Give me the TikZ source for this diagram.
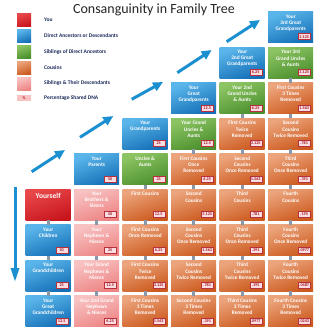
\documentclass[tikz,border=0pt]{standalone}
\usepackage{fontspec}
\setmainfont{Carlito}
\usetikzlibrary{arrows.meta}
\definecolor{redL}{HTML}{E8484A}\definecolor{redD}{HTML}{C8161E}
\definecolor{bluL}{HTML}{5AB6EA}\definecolor{bluD}{HTML}{1670B8}
\definecolor{grnL}{HTML}{8CC463}\definecolor{grnD}{HTML}{4B8F2C}
\definecolor{oraL}{HTML}{ECA47C}\definecolor{oraD}{HTML}{CC5A1E}
\definecolor{pnkL}{HTML}{F8C2C2}\definecolor{pnkD}{HTML}{EE8484}
\definecolor{pctfill}{HTML}{FADDE0}\definecolor{pctline}{HTML}{B8303C}
\definecolor{pcttext}{HTML}{A01828}\definecolor{stubc}{HTML}{8898A8}
\definecolor{arrc}{HTML}{1A90D0}\definecolor{legtext}{HTML}{1C2A5C}
\newcommand\fb[6]{%
  \node[box,#4] (#1) at (#2,#3) {};
  \node[boxtext] (#1t) at ([yshift=-3pt]#1.north) {#5};
  \node[pct] (#1p) at ([shift={(-3pt,3pt)}]#1.south east) {#6};
}
\begin{document}
\begin{tikzpicture}[x=1pt,y=-1pt,
  box/.style={rectangle,minimum width=45pt,minimum height=31pt,anchor=north west,inner sep=0pt},
  redb/.style={top color=redL,bottom color=redD,shading angle=20},
  blub/.style={top color=bluL,bottom color=bluD,shading angle=20},
  grnb/.style={top color=grnL,bottom color=grnD,shading angle=20},
  orab/.style={top color=oraL,bottom color=oraD,shading angle=20},
  pnkb/.style={top color=pnkL,bottom color=pnkD,shading angle=20},
  boxtext/.style={anchor=north,text=white,font=\fontsize{5.3}{6.1}\selectfont\bfseries,align=center,inner sep=0pt},
  pct/.style={anchor=south east,fill=pctfill,draw=pctline,line width=0.4pt,text=pcttext,font=\fontsize{4.2}{4.2}\selectfont\bfseries,inner sep=0.6pt,minimum width=12pt,minimum height=6pt},
  stub/.style={draw=stubc,line width=3pt},
  arr/.style={draw=arrc,line width=3pt,-{Triangle[length=10pt,width=9pt]}},
  swatch/.style={rectangle,minimum width=14pt,minimum height=13pt,anchor=north west,inner sep=0pt},
  legt/.style={anchor=west,text=legtext,font=\fontsize{5.5}{5.5}\selectfont\bfseries,inner sep=0pt}]
\fill[white] (0,0) rectangle (321,329);
\useasboundingbox (0,0) rectangle (321,329);
% title
\node[font=\fontsize{14}{14}\selectfont,text=black!85] (title) at (154,10) {Consanguinity in Family Tree};
% legend
\node[swatch,redb] (lg1) at (17,13) {};
\node[swatch,blub] (lg2) at (17,29) {};
\node[swatch,grnb] (lg3) at (17,45) {};
\node[swatch,orab] (lg4) at (17,61) {};
\node[swatch,pnkb] (lg5) at (17,77) {};
\node[rectangle,minimum width=14pt,minimum height=6pt,anchor=north west,inner sep=0pt,fill=pnkL,text=pcttext,font=\fontsize{4}{4}\selectfont\bfseries] (lg6) at (17,95) {\%};
\node[legt] (lt1) at (44,20) {You};
\node[legt] (lt2) at (44,36) {Direct Ancestors or Descendants};
\node[legt] (lt3) at (44,52) {Siblings of Direct Ancestors};
\node[legt] (lt4) at (44,67.5) {Cousins};
\node[legt] (lt5) at (44,83.5) {Siblings \& Their Descendants};
\node[legt] (lt6) at (44,98) {Percentage Shared DNA};
% column 0
\node[box,redb] (c0r5) at (25.5,189) {};
\node[boxtext,font=\fontsize{7.5}{8}\selectfont\bfseries] (c0r5t) at ([yshift=-4pt]c0r5.north) {Yourself};
\fb{c0r6}{25.5}{224.5}{blub}{Your\\Children}{50}
\fb{c0r7}{25.5}{260}{blub}{Your\\Grandchildren}{25}
\fb{c0r8}{25.5}{295.5}{blub}{Your\\Great\\Grandchildren}{12.5}
% column 1
\fb{c1r4}{74}{153.5}{blub}{Your\\Parents}{50}
\fb{c1r5}{74}{189}{pnkb}{Your\\Brothers \&\\Sisters}{50}
\fb{c1r6}{74}{224.5}{pnkb}{Your\\Nephews \&\\Nieces}{25}
\fb{c1r7}{74}{260}{pnkb}{Your Grand\\Nephews \&\\Nieces}{12.5}
\fb{c1r8}{74}{295.5}{pnkb}{Your 2nd Grand\\Nephews\\\& Nieces}{6.25}
% column 2
\fb{c2r3}{122.5}{118}{blub}{Your\\Grandparents}{25}
\fb{c2r4}{122.5}{153.5}{grnb}{Uncles \&\\Aunts}{25}
\fb{c2r5}{122.5}{189}{orab}{First Cousins}{12.5}
\fb{c2r6}{122.5}{224.5}{orab}{First Cousins\\Once Removed}{6.25}
\fb{c2r7}{122.5}{260}{orab}{First Cousins\\Twice\\Removed}{3.125}
\fb{c2r8}{122.5}{295.5}{orab}{First Cousins\\3 Times\\Removed}{1.563}
% column 3
\fb{c3r2}{171}{82.5}{blub}{Your\\Great\\Grandparents}{12.5}
\fb{c3r3}{171}{118}{grnb}{Your Grand\\Uncles \&\\Aunts}{12.5}
\fb{c3r4}{171}{153.5}{orab}{First Cousins\\Once\\Removed}{6.25}
\fb{c3r5}{171}{189}{orab}{Second\\Cousins}{3.125}
\fb{c3r6}{171}{224.5}{orab}{Second\\Cousins\\Once Removed}{1.563}
\fb{c3r7}{171}{260}{orab}{Second\\Cousins\\Twice Removed}{.781}
\fb{c3r8}{171}{295.5}{orab}{Second Cousins\\3 Times\\Removed}{.391}
% column 4
\fb{c4r1}{219.5}{47}{blub}{Your\\2nd Great\\Grandparents}{6.25}
\fb{c4r2}{219.5}{82.5}{grnb}{Your 2nd\\Grand Uncles\\\& Aunts}{6.25}
\fb{c4r3}{219.5}{118}{orab}{First Cousins\\Twice\\Removed}{3.125}
\fb{c4r4}{219.5}{153.5}{orab}{Second\\Cousins\\Once Removed}{1.563}
\fb{c4r5}{219.5}{189}{orab}{Third\\Cousins}{.781}
\fb{c4r6}{219.5}{224.5}{orab}{Third\\Cousins\\Once Removed}{.391}
\fb{c4r7}{219.5}{260}{orab}{Third\\Cousins\\Twice Removed}{.195}
\fb{c4r8}{219.5}{295.5}{orab}{Third Cousins\\3 Times\\Removed}{.0977}
% column 5
\fb{c5r0}{268}{11.5}{blub}{Your\\3rd Great\\Grandparents}{3.125}
\fb{c5r1}{268}{47}{grnb}{Your 3rd\\Grand Uncles\\\& Aunts}{3.125}
\fb{c5r2}{268}{82.5}{orab}{First Cousins\\3 Times\\Removed}{1.563}
\fb{c5r3}{268}{118}{orab}{Second\\Cousins\\Twice Removed}{.781}
\fb{c5r4}{268}{153.5}{orab}{Third\\Cousins\\Once Removed}{.391}
\fb{c5r5}{268}{189}{orab}{Fourth\\Cousins}{.195}
\fb{c5r6}{268}{224.5}{orab}{Fourth\\Cousins\\Once Removed}{.0977}
\fb{c5r7}{268}{260}{orab}{Fourth\\Cousins\\Twice Removed}{.0487}
\fb{c5r8}{268}{295.5}{orab}{Fourth Cousins\\3 Times\\Removed}{.0243}
% stubs
\foreach \a/\b in {c0r5/c0r6,c0r6/c0r7,c0r7/c0r8,
  c1r5/c1r6,c1r6/c1r7,c1r7/c1r8,
  c2r4/c2r5,c2r5/c2r6,c2r6/c2r7,c2r7/c2r8,
  c3r3/c3r4,c3r4/c3r5,c3r5/c3r6,c3r6/c3r7,c3r7/c3r8,
  c4r2/c4r3,c4r3/c4r4,c4r4/c4r5,c4r5/c4r6,c4r6/c4r7,c4r7/c4r8,
  c5r1/c5r2,c5r2/c5r3,c5r3/c5r4,c5r4/c5r5,c5r5/c5r6,c5r6/c5r7,c5r7/c5r8}
  {\draw[stub] (\a.south) -- (\b.north);}
% arrows
\coordinate (a1s) at (31.7,171.7); \coordinate (a1e) at (65,150);
\coordinate (a2s) at (80,137.3);   \coordinate (a2e) at (113.3,116);
\coordinate (a3s) at (131.7,99.3); \coordinate (a3e) at (163,82);
\coordinate (a4s) at (177.3,72.7); \coordinate (a4e) at (211.7,50);
\coordinate (a5s) at (226.7,41.7); \coordinate (a5e) at (260,20);
\coordinate (vs) at (15,187);      \coordinate (ve) at (15,282);
\foreach \i in {1,...,5} {\draw[arr] (a\i s) -- (a\i e);}
\draw[draw=arrc,line width=3pt,-{Triangle[length=14pt,width=8pt]}] (vs) -- (ve);
\end{tikzpicture}
\end{document}
